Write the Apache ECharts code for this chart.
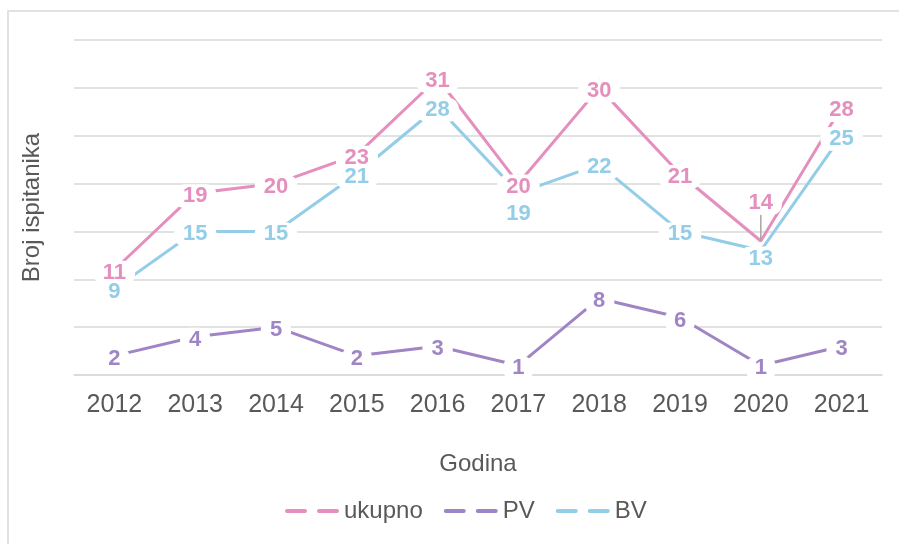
<!DOCTYPE html>
<html lang="hr">
<head>
    <meta charset="UTF-8">
    <title>Broj ispitanika po godinama</title>
    <script src="https://cdn.jsdelivr.net/npm/echarts@6/dist/echarts.min.js"></script>
    <style>
        html, body { margin: 0; padding: 0; background: #fff; }
    </style>
</head>
<body>
    <div id="main" style="width: 899px; height: 544px"></div>
    <script>
        // podaci s grafa
        var godine = ['2012', '2013', '2014', '2015', '2016', '2017', '2018', '2019', '2020', '2021'];
        var ukupno = [11, 19, 20, 23, 31, 20, 30, 21, 14, 28];
        var pv = [2, 4, 5, 2, 3, 1, 8, 6, 1, 3];
        var bv = [9, 15, 15, 21, 28, 19, 22, 15, 13, 25];

        var textColor = '#595959';
        var gridColor = '#d9d9d9';
        var legendIcon = 'path://M2,0H20A2,2 0 0 1 20,4H2A2,2 0 0 1 2,0Z M34,0H52A2,2 0 0 1 52,4H34A2,2 0 0 1 34,0Z';

        // linije bez oznaka
        function linija(name, data, color) {
            return {
                name: name,
                type: 'line',
                data: data,
                symbol: 'none',
                z: 2,
                lineStyle: { color: color, width: 3 },
                itemStyle: { color: color }
            };
        }

        // oznake s bijelom pozadinom, iznad svih linija
        function oznake(name, data, color, pomaci, vodilica) {
            return {
                name: name,
                type: 'line',
                data: data,
                symbol: 'circle',
                symbolSize: 1,
                z: 5,
                lineStyle: { width: 0, color: 'rgba(0,0,0,0)' },
                itemStyle: { color: 'rgba(0,0,0,0)' },
                label: {
                    show: true,
                    position: 'inside',
                    color: color,
                    fontSize: 22,
                    fontWeight: 'bold',
                    fontFamily: 'Liberation Sans, Arial, sans-serif',
                    backgroundColor: '#fff',
                    padding: [1, 9],
                    borderRadius: 10
                },
                labelLine: { show: vodilica, lineStyle: { color: '#a6a6a6', width: 1.5 } },
                labelLayout: function (p) {
                    return { dy: (pomaci[p.dataIndex] || 0) + 3 };
                }
            };
        }

        echarts.init(document.getElementById('main')).setOption({
            animation: false,
            textStyle: { fontFamily: 'Liberation Sans, Arial, sans-serif' },
            graphic: [{
                type: 'rect',
                shape: { x: 8, y: 11, width: 1000, height: 1000 },
                style: { fill: 'none', stroke: gridColor, lineWidth: 1.5 },
                silent: true,
                z: -1
            }],
            grid: { left: 74, right: 17, top: 40, bottom: 169 },
            legend: {
                bottom: 16,
                left: 280,
                itemWidth: 54,
                itemHeight: 4,
                itemGap: 21,
                textStyle: { color: textColor, fontSize: 24 },
                data: [
                    { name: 'ukupno', icon: legendIcon },
                    { name: 'PV', icon: legendIcon },
                    { name: 'BV', icon: legendIcon }
                ]
            },
            xAxis: {
                type: 'category',
                data: godine,
                boundaryGap: true,
                name: 'Godina',
                nameLocation: 'middle',
                nameGap: 77,
                nameTextStyle: { color: textColor, fontSize: 24 },
                axisLine: { lineStyle: { color: gridColor, width: 1.5 } },
                axisTick: { show: false },
                axisLabel: { color: textColor, fontSize: 25, margin: 18 }
            },
            yAxis: {
                type: 'value',
                min: 0,
                max: 35,
                interval: 5,
                name: 'Broj ispitanika',
                nameLocation: 'middle',
                nameRotate: 90,
                nameGap: 30,
                nameTextStyle: { color: textColor, fontSize: 24 },
                axisLabel: { show: false },
                axisLine: { show: false },
                axisTick: { show: false },
                splitLine: { lineStyle: { color: gridColor, width: 1.5 } }
            },
            series: [
                linija('ukupno', ukupno, '#e48fbd'),
                linija('PV', pv, '#a085c6'),
                linija('BV', bv, '#93cde8'),
                oznake('ukupno', ukupno, '#e48fbd', { 8: -41 }, true),
                oznake('PV', pv, '#a085c6', {}, false),
                oznake('BV', bv, '#93cde8', { 5: 18, 8: 5 }, false)
            ]
        });
    </script>
</body>
</html>
